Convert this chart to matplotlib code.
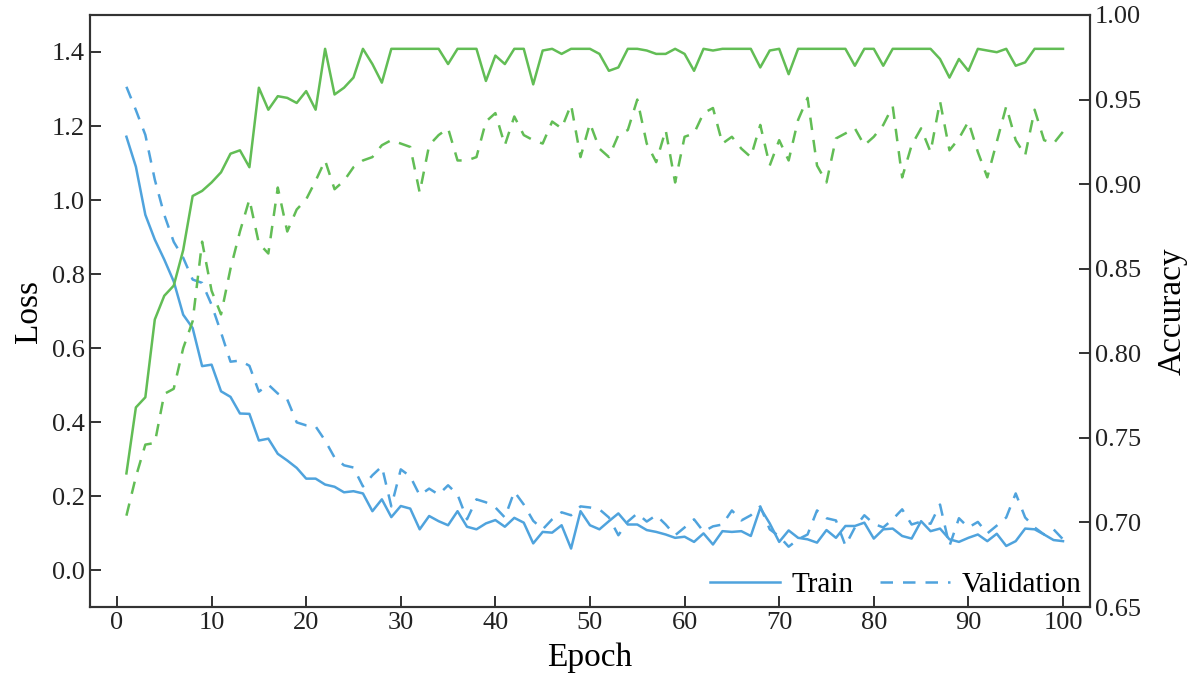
import numpy as np
import matplotlib.pyplot as plt

plt.rcParams['font.family'] = ['Liberation Serif', 'DejaVu Serif']

epochs = np.arange(1, 101)

train_loss = [1.171, 1.090, 0.960, 0.893, 0.839, 0.780, 0.690, 0.654, 0.551, 0.555,
              0.483, 0.468, 0.423, 0.422, 0.350, 0.355, 0.314, 0.296, 0.276, 0.247,
              0.247, 0.231, 0.225, 0.210, 0.213, 0.207, 0.159, 0.191, 0.143, 0.173,
              0.166, 0.110, 0.146, 0.132, 0.121, 0.159, 0.117, 0.110, 0.126, 0.135,
              0.117, 0.141, 0.128, 0.072, 0.103, 0.101, 0.121, 0.058, 0.159, 0.121,
              0.110, 0.132, 0.153, 0.123, 0.123, 0.108, 0.103, 0.096, 0.087, 0.090,
              0.076, 0.099, 0.069, 0.105, 0.103, 0.105, 0.092, 0.168, 0.126, 0.076,
              0.107, 0.087, 0.083, 0.074, 0.108, 0.087, 0.119, 0.119, 0.128, 0.085,
              0.110, 0.112, 0.092, 0.085, 0.132, 0.105, 0.112, 0.083, 0.076, 0.087,
              0.096, 0.078, 0.098, 0.065, 0.078, 0.112, 0.110, 0.096, 0.081, 0.078]

val_loss = [1.306, 1.243, 1.176, 1.055, 0.960, 0.887, 0.844, 0.785, 0.776, 0.717,
            0.642, 0.563, 0.566, 0.552, 0.482, 0.501, 0.477, 0.461, 0.399, 0.391,
            0.388, 0.350, 0.304, 0.283, 0.277, 0.226, 0.256, 0.280, 0.172, 0.272,
            0.253, 0.202, 0.220, 0.204, 0.229, 0.204, 0.137, 0.191, 0.183, 0.169,
            0.142, 0.212, 0.177, 0.133, 0.110, 0.137, 0.156, 0.148, 0.172, 0.169,
            0.164, 0.142, 0.094, 0.131, 0.153, 0.131, 0.148, 0.123, 0.094, 0.115,
            0.137, 0.104, 0.118, 0.123, 0.161, 0.134, 0.148, 0.172, 0.110, 0.091,
            0.063, 0.083, 0.096, 0.161, 0.140, 0.134, 0.066, 0.115, 0.148, 0.125,
            0.115, 0.137, 0.164, 0.123, 0.131, 0.125, 0.177, 0.065, 0.140, 0.115,
            0.130, 0.099, 0.120, 0.142, 0.207, 0.142, 0.115, 0.096, 0.110, 0.083]

train_acc = [0.729, 0.768, 0.774, 0.820, 0.834, 0.840, 0.861, 0.893, 0.896, 0.901,
             0.907, 0.918, 0.920, 0.910, 0.957, 0.944, 0.952, 0.951, 0.948, 0.955,
             0.944, 0.980, 0.953, 0.957, 0.963, 0.980, 0.971, 0.960, 0.980, 0.980,
             0.980, 0.980, 0.980, 0.980, 0.971, 0.980, 0.980, 0.980, 0.961, 0.976,
             0.971, 0.980, 0.980, 0.959, 0.979, 0.980, 0.977, 0.980, 0.980, 0.980,
             0.977, 0.967, 0.969, 0.980, 0.980, 0.979, 0.977, 0.977, 0.980, 0.977,
             0.967, 0.980, 0.979, 0.980, 0.980, 0.980, 0.980, 0.969, 0.979, 0.980,
             0.965, 0.980, 0.980, 0.980, 0.980, 0.980, 0.980, 0.970, 0.980, 0.980,
             0.970, 0.980, 0.980, 0.980, 0.980, 0.980, 0.974, 0.963, 0.974, 0.967,
             0.980, 0.979, 0.978, 0.980, 0.970, 0.972, 0.980, 0.980, 0.980, 0.980]

val_acc = [0.704, 0.727, 0.746, 0.747, 0.776, 0.779, 0.803, 0.819, 0.866, 0.837,
           0.823, 0.850, 0.872, 0.891, 0.865, 0.859, 0.898, 0.872, 0.885, 0.891,
           0.902, 0.914, 0.897, 0.902, 0.910, 0.914, 0.916, 0.923, 0.926, 0.924,
           0.922, 0.895, 0.923, 0.929, 0.933, 0.914, 0.914, 0.916, 0.937, 0.942,
           0.923, 0.940, 0.929, 0.926, 0.924, 0.937, 0.933, 0.947, 0.916, 0.936,
           0.921, 0.916, 0.929, 0.932, 0.950, 0.924, 0.913, 0.932, 0.901, 0.928,
           0.930, 0.942, 0.945, 0.924, 0.928, 0.921, 0.916, 0.935, 0.911, 0.926,
           0.914, 0.938, 0.951, 0.911, 0.901, 0.927, 0.930, 0.933, 0.923, 0.928,
           0.935, 0.946, 0.904, 0.923, 0.933, 0.919, 0.949, 0.920, 0.927, 0.937,
           0.919, 0.904, 0.925, 0.946, 0.926, 0.917, 0.944, 0.926, 0.924, 0.931]

blue = '#4fa3dd'
green = '#62bd55'
dash = (0, (5, 4))

fig = plt.figure(figsize=(12, 6.88), dpi=100)
ax = fig.add_axes([0.075, 0.1177, 0.8333, 0.8605])
ax2 = ax.twinx()

ax.plot(epochs, train_loss, color=blue, lw=1.8, label='Train')
ax.plot(epochs, val_loss, color=blue, lw=1.8, linestyle=dash, label='Validation')
ax2.plot(epochs, train_acc, color=green, lw=1.8)
ax2.plot(epochs, val_acc, color=green, lw=1.8, linestyle=dash)

ax.set_xlim(-2.85, 102.85)
ax.set_ylim(-0.1, 1.5)
ax2.set_ylim(0.65, 1.0)
ax.set_xticks(np.arange(0, 101, 10))
ax.set_yticks(np.arange(0, 1.41, 0.2))
ax2.set_yticks(np.arange(0.65, 1.001, 0.05))
ax2.set_yticklabels(['%.2f' % v for v in np.arange(0.65, 1.001, 0.05)])

ax.set_xlabel('Epoch', fontsize=24, labelpad=6)
ax.set_ylabel('Loss', fontsize=24, labelpad=6)
ax2.set_ylabel('Accuracy', fontsize=24, labelpad=12)

for a in (ax, ax2):
    a.tick_params(direction='in', length=8, width=1.3, labelsize=19, colors='#222222')
    for s in a.spines.values():
        s.set_linewidth(1.5)
        s.set_color('#333333')

ax.legend(loc='lower right', ncol=2, frameon=False, fontsize=21,
          handlelength=2.4, columnspacing=0.9, handletextpad=0.4,
          borderaxespad=0.0, borderpad=0.3)

fig.savefig('out.png', dpi=100)
